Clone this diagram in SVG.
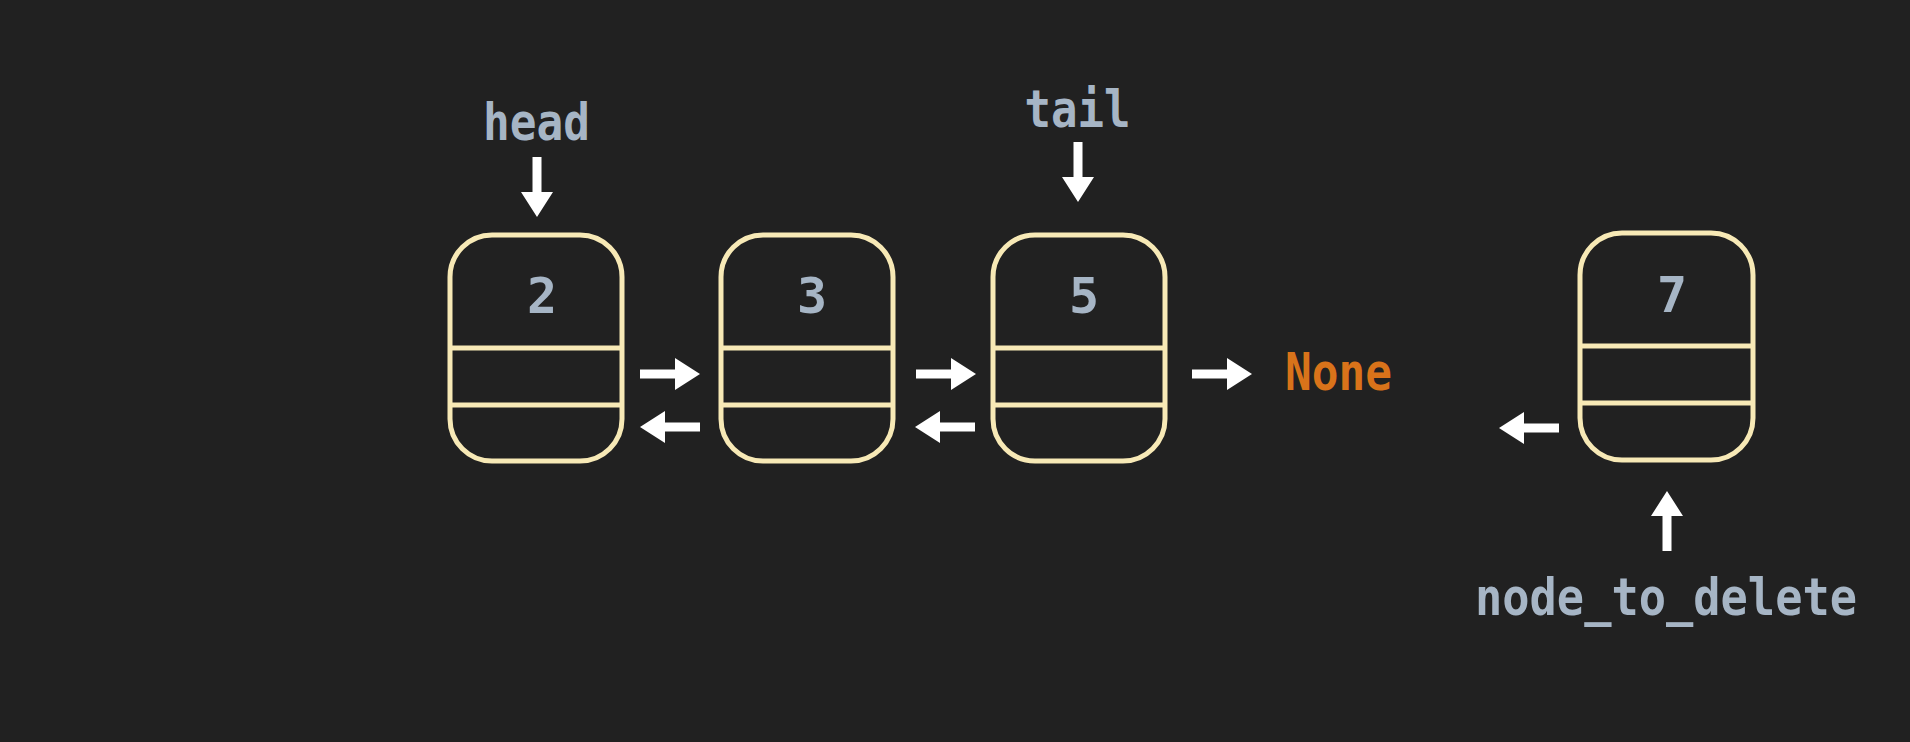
<svg xmlns="http://www.w3.org/2000/svg" xmlns:xlink="http://www.w3.org/1999/xlink" width="1910" height="742" viewBox="0 0 1910 742">
<style>
.box{fill:none;stroke:#f7e9b6;stroke-width:5}
.div{stroke:#f7e9b6;stroke-width:5}
.lbl{font-family:"DejaVu Sans Mono","Liberation Mono",monospace;font-weight:bold;fill:#a6b5c5;font-size:51px}
.num{font-family:"DejaVu Sans Mono","Liberation Mono",monospace;font-weight:bold;fill:#a6b5c5;font-size:50px;text-anchor:middle}
.none{font-family:"DejaVu Sans Mono","Liberation Mono",monospace;font-weight:bold;fill:#d9731a;font-size:51px}
.arr{fill:#ffffff}
</style>
<defs>
<path id="arrow" d="M0 -4.5 H35 V-16 L60 0 L35 16 V4.5 H0 Z"/>
</defs>
<rect width="1910" height="742" fill="#212121"/>
<g id="node-2">
<rect class="box" x="450" y="235" width="172" height="226" rx="42"/>
<line class="div" x1="450" y1="348" x2="622" y2="348"/>
<line class="div" x1="450" y1="405" x2="622" y2="405"/>
<text class="num" x="542" y="313">2</text>
</g>
<g id="node-3">
<rect class="box" x="721" y="235" width="172" height="226" rx="42"/>
<line class="div" x1="721" y1="348" x2="893" y2="348"/>
<line class="div" x1="721" y1="405" x2="893" y2="405"/>
<text class="num" x="812" y="313">3</text>
</g>
<g id="node-5">
<rect class="box" x="993" y="235" width="172" height="226" rx="42"/>
<line class="div" x1="993" y1="348" x2="1165" y2="348"/>
<line class="div" x1="993" y1="405" x2="1165" y2="405"/>
<text class="num" x="1084" y="313">5</text>
</g>
<g id="node-7">
<rect class="box" x="1580" y="233" width="173" height="227" rx="42"/>
<line class="div" x1="1580" y1="346" x2="1753" y2="346"/>
<line class="div" x1="1580" y1="403" x2="1753" y2="403"/>
<text class="num" x="1672" y="312">7</text>
</g>
<g id="label-head"><text class="lbl" x="536.5" y="140" text-anchor="middle" textLength="107" lengthAdjust="spacingAndGlyphs">head</text></g>
<g id="label-tail"><text class="lbl" x="1077.5" y="127" text-anchor="middle" textLength="106" lengthAdjust="spacingAndGlyphs">tail</text></g>
<g id="label-none"><text class="none" x="1285" y="390" textLength="107" lengthAdjust="spacingAndGlyphs">None</text></g>
<g id="label-node_to_delete"><text class="lbl" x="1666" y="615" text-anchor="middle" textLength="382" lengthAdjust="spacingAndGlyphs">node_to_delete</text></g>
<g id="connectors" class="arr">
<use xlink:href="#arrow" transform="translate(537,157) rotate(90)"/>
<use xlink:href="#arrow" transform="translate(1078,142) rotate(90)"/>
<use xlink:href="#arrow" transform="translate(640,374)"/>
<use xlink:href="#arrow" transform="translate(916,374)"/>
<use xlink:href="#arrow" transform="translate(1192,374)"/>
<use xlink:href="#arrow" transform="translate(700,427) rotate(180)"/>
<use xlink:href="#arrow" transform="translate(975,427) rotate(180)"/>
<use xlink:href="#arrow" transform="translate(1559,428) rotate(180)"/>
<use xlink:href="#arrow" transform="translate(1667,551) rotate(-90)"/>
</g>
</svg>
